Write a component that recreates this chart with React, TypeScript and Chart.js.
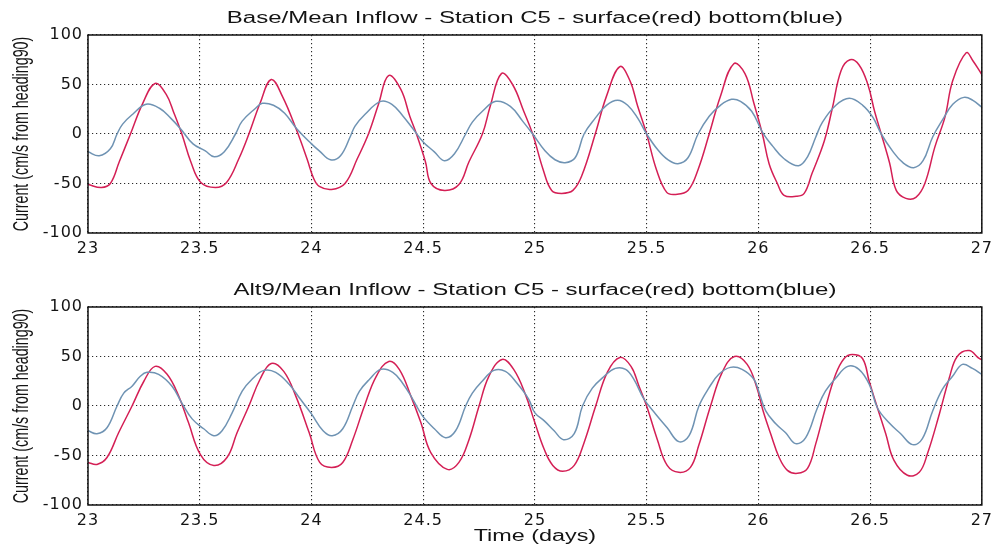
import React, { useEffect, useRef } from 'react';
import { Chart, registerables } from 'chart.js';

Chart.register(...registerables);

// ---- axis settings ----
const X_MIN = 23;
const X_MAX = 27;
const X_STEP = 0.5;
const Y_MIN = -100;
const Y_MAX = 100;
const Y_STEP = 50;

// ---- text ----
const TITLE_TOP = 'Base/Mean Inflow - Station C5 - surface(red) bottom(blue)';
const TITLE_BOTTOM = 'Alt9/Mean Inflow - Station C5 - surface(red) bottom(blue)';
const Y_LABEL = 'Current (cm/s from heading90)';
const X_LABEL = 'Time (days)';

// ---- Base / Mean inflow : surface (red) ----
const baseRedT = [23.0, 23.06, 23.10, 23.14, 23.19, 23.245, 23.30, 23.35, 23.385, 23.42, 23.46, 23.505, 23.57, 23.62, 23.675, 23.72, 23.77, 23.82, 23.87, 23.935, 23.98, 24.01, 24.035, 24.09, 24.15, 24.205, 24.255, 24.30, 24.345, 24.40, 24.44, 24.47, 24.51, 24.535, 24.595, 24.66, 24.705, 24.765, 24.80, 24.85, 24.90, 24.95, 24.99, 25.037, 25.075, 25.12, 25.17, 25.21, 25.27, 25.32, 25.38, 25.425, 25.46, 25.50, 25.544, 25.59, 25.63, 25.685, 25.73, 25.78, 25.83, 25.89, 25.94, 25.98, 26.018, 26.048, 26.085, 26.115, 26.17, 26.205, 26.24, 26.295, 26.33, 26.37, 26.41, 26.45, 26.49, 26.52, 26.55, 26.587, 26.617, 26.66, 26.705, 26.745, 26.79, 26.835, 26.87, 26.93, 26.96, 27.0];
const baseRedV = [-51, -54, -50, -28, 0, 31, 51, 40, 21, 0, -28, -49, -54, -49, -25, 0, 31, 55, 38, 3, -25, -45, -53, -56, -50, -25, 0, 30, 59, 45, 18, 0, -28, -50, -57, -51, -28, 0, 28, 61, 50, 23, 0, -36, -57, -60, -57, -42, 0, 38, 68, 54, 28, 0, -36, -59, -61, -57, -36, 0, 38, 71, 61, 31, 0, -30, -50, -62, -63, -60, -40, -7, 25, 64, 75, 70, 50, 23, 0, -29, -57, -65, -64, -50, -13, 17, 54, 82, 74, 60];

// ---- Base / Mean inflow : bottom (blue) ----
const baseBlueT = [23.0, 23.05, 23.10, 23.13, 23.155, 23.20, 23.26, 23.32, 23.37, 23.415, 23.47, 23.525, 23.565, 23.61, 23.66, 23.69, 23.75, 23.78, 23.83, 23.88, 23.935, 24.0, 24.035, 24.085, 24.13, 24.175, 24.195, 24.24, 24.31, 24.36, 24.41, 24.455, 24.50, 24.55, 24.595, 24.64, 24.69, 24.72, 24.765, 24.825, 24.89, 24.945, 24.99, 25.045, 25.09, 25.135, 25.18, 25.22, 25.27, 25.32, 25.37, 25.415, 25.46, 25.50, 25.55, 25.595, 25.64, 25.685, 25.73, 25.78, 25.83, 25.88, 25.92, 25.97, 26.018, 26.063, 26.115, 26.18, 26.22, 26.257, 26.287, 26.347, 26.407, 26.467, 26.512, 26.55, 26.60, 26.647, 26.695, 26.737, 26.78, 26.826, 26.87, 26.92, 26.96, 27.0];
const baseBlueV = [-18, -22, -15, 0, 10, 20, 30, 26, 16, 5, -10, -17, -23, -18, 0, 13, 26, 31, 29, 21, 5, -10, -17, -26, -22, -2, 8, 20, 33, 30, 18, 5, -8, -18, -27, -20, 0, 12, 23, 33, 28, 13, 0, -17, -26, -29, -24, 0, 16, 29, 34, 29, 16, 0, -16, -26, -30, -24, 0, 18, 29, 35, 33, 23, 2, -12, -25, -32, -23, -3, 12, 29, 36, 29, 17, 0, -17, -29, -34, -27, -3, 15, 30, 37, 34, 27];

// ---- Alt9 / Mean inflow : surface (red) ----
const altRedT = [23.0, 23.04, 23.085, 23.137, 23.197, 23.25, 23.30, 23.354, 23.406, 23.45, 23.503, 23.563, 23.622, 23.667, 23.72, 23.77, 23.82, 23.876, 23.93, 23.99, 24.037, 24.09, 24.14, 24.185, 24.237, 24.29, 24.346, 24.393, 24.445, 24.49, 24.534, 24.608, 24.66, 24.705, 24.75, 24.794, 24.853, 24.905, 24.957, 25.0, 25.042, 25.08, 25.124, 25.176, 25.22, 25.272, 25.324, 25.38, 25.43, 25.466, 25.5, 25.548, 25.592, 25.644, 25.696, 25.733, 25.786, 25.838, 25.893, 25.95, 25.994, 26.02, 26.055, 26.093, 26.13, 26.175, 26.22, 26.257, 26.30, 26.346, 26.384, 26.42, 26.466, 26.496, 26.533, 26.57, 26.607, 26.667, 26.72, 26.757, 26.81, 26.854, 26.89, 26.943, 26.988, 27.0];
const altRedV = [-57, -59, -52, -27, 0, 25, 40, 32, 10, -17, -49, -60, -52, -27, 0, 27, 43, 35, 10, -27, -57, -62, -57, -34, 0, 30, 45, 37, 10, -17, -47, -64, -57, -34, 0, 30, 47, 37, 12, -17, -44, -60, -66, -60, -37, 0, 34, 49, 40, 20, 0, -34, -60, -67, -62, -40, 0, 34, 50, 42, 18, -4, -28, -52, -65, -68, -63, -38, -2, 32, 48, 52, 48, 25, -2, -28, -55, -70, -67, -48, -8, 28, 50, 56, 48, 47];

// ---- Alt9 / Mean inflow : bottom (blue) ----
const altBlueT = [23.0, 23.04, 23.085, 23.13, 23.16, 23.197, 23.234, 23.264, 23.316, 23.376, 23.42, 23.466, 23.518, 23.563, 23.60, 23.645, 23.69, 23.734, 23.787, 23.84, 23.90, 23.95, 24.0, 24.052, 24.093, 24.14, 24.185, 24.215, 24.26, 24.31, 24.364, 24.408, 24.453, 24.497, 24.55, 24.60, 24.645, 24.69, 24.72, 24.764, 24.816, 24.868, 24.92, 24.972, 25.0, 25.042, 25.086, 25.128, 25.176, 25.213, 25.257, 25.31, 25.36, 25.406, 25.443, 25.488, 25.54, 25.592, 25.644, 25.69, 25.734, 25.778, 25.823, 25.875, 25.927, 25.98, 26.003, 26.033, 26.078, 26.122, 26.167, 26.212, 26.264, 26.30, 26.346, 26.40, 26.45, 26.496, 26.533, 26.585, 26.637, 26.69, 26.734, 26.78, 26.824, 26.869, 26.913, 26.958, 27.0];
const altBlueV = [-25, -28, -22, 0, 13, 20, 30, 34, 32, 20, 3, -13, -23, -30, -25, -7, 15, 27, 36, 34, 22, 7, -8, -25, -30, -23, 0, 15, 27, 37, 34, 23, 7, -10, -23, -32, -25, 0, 13, 25, 36, 35, 23, 7, -7, -15, -25, -34, -28, 0, 18, 30, 38, 37, 27, 7, -8, -22, -36, -30, 0, 18, 32, 39, 37, 27, 14, -5, -18, -27, -38, -32, -2, 15, 28, 40, 37, 22, -2, -17, -28, -39, -33, -5, 17, 30, 42, 38, 32];

const RED = '#d41f55';
const BLUE = '#6f93b3';
const TEXT = '#141414';

const W = 998;
const PLOT_TOP = 35;
const PLOT_BOTTOM = 233;
const PLOT_LEFT = 88;
const PLOT_RIGHT_PAD = 13;

function toPoints(t: number[], v: number[]) {
  return t.map((x, i) => ({ x, y: v[i] }));
}

function stretchedText(ctx: any, text: string, x: number, y: number, size: number, sx: number, rotated: boolean) {
  ctx.save();
  ctx.translate(x, y);
  ctx.scale(sx, 1);
  if (rotated) ctx.rotate(-Math.PI / 2);
  ctx.font = `${size}px "Liberation Sans", Arial, sans-serif`;
  ctx.textAlign = 'center';
  ctx.textBaseline = 'middle';
  ctx.fillStyle = TEXT;
  ctx.fillText(text, 0, 0);
  ctx.restore();
}

const decorPlugin = {
  id: 'decor',
  beforeDraw(chart: any) {
    const ctx = chart.ctx;
    ctx.save();
    ctx.fillStyle = '#ffffff';
    ctx.fillRect(0, 0, chart.width, chart.height);
    ctx.restore();
    ctx.letterSpacing = '1px';
  },
  afterDraw(chart: any, _args: any, opts: any) {
    const ctx = chart.ctx;
    const a = chart.chartArea;
    ctx.letterSpacing = '0px';
    ctx.save();
    ctx.strokeStyle = '#111';
    ctx.lineWidth = 1.5;
    ctx.strokeRect(a.left, a.top, a.right - a.left, a.bottom - a.top);
    ctx.restore();
    const cx = (a.left + a.right) / 2;
    stretchedText(ctx, opts.title, cx, 19, 16, 1.5, false);
    stretchedText(ctx, Y_LABEL, 22, (a.top + a.bottom) / 2, 14.3, 1.5, true);
    if (opts.xLabel) stretchedText(ctx, opts.xLabel, cx, a.bottom + 32, 16, 1.46, false);
  },
};

function Panel(props: { title: string; red: any[]; blue: any[]; height: number; top: number; xLabel?: string }) {
  const ref = useRef<HTMLCanvasElement | null>(null);
  useEffect(() => {
    if (!ref.current) return;
    const tickFont = { family: '"DejaVu Sans", sans-serif', size: 16 };
    const fmt = (v: any) => String(Number(v));
    const chart = new Chart(ref.current, {
      type: 'line',
      data: {
        datasets: [
          {
            data: props.blue,
            borderColor: BLUE,
            borderWidth: 1.5,
            pointRadius: 0,
            fill: false,
            tension: 0.4,
          },
          {
            data: props.red,
            borderColor: RED,
            borderWidth: 1.5,
            pointRadius: 0,
            fill: false,
            tension: 0.4,
          },
        ],
      },
      options: {
        responsive: false,
        maintainAspectRatio: false,
        animation: false,
        events: [],
        layout: { padding: { left: 0, top: PLOT_TOP, right: PLOT_RIGHT_PAD, bottom: 0 } },
        plugins: {
          legend: { display: false },
          tooltip: { enabled: false },
          title: { display: false },
          decor: { title: props.title, xLabel: props.xLabel },
        } as any,
        scales: {
          x: {
            type: 'linear',
            min: X_MIN,
            max: X_MAX,
            ticks: { stepSize: X_STEP, padding: 6, color: TEXT, font: tickFont, maxRotation: 0, autoSkip: false, callback: fmt },
            grid: { color: '#2a2a2a', lineWidth: 1.1, drawTicks: false },
            border: { display: false, dash: [1.2, 2.8] },
            afterFit: (s: any) => {
              s.height = props.height - PLOT_BOTTOM;
            },
          },
          y: {
            type: 'linear',
            min: Y_MIN,
            max: Y_MAX,
            ticks: { stepSize: Y_STEP, padding: 5, color: TEXT, font: tickFont, callback: fmt },
            grid: { color: '#2a2a2a', lineWidth: 1.1, drawTicks: false },
            border: { display: false, dash: [1.2, 2.8] },
            afterFit: (s: any) => {
              s.width = PLOT_LEFT;
            },
          },
        },
      } as any,
      plugins: [decorPlugin as any],
    });
    return () => chart.destroy();
  }, []);
  return (
    <canvas
      ref={ref}
      width={W}
      height={props.height}
      style={{ position: 'absolute', left: 0, top: props.top, width: W, height: props.height, display: 'block' }}
    />
  );
}

export default function App() {
  return (
    <div style={{ position: 'fixed', left: 0, top: 0, width: W, height: 549, background: '#fff', overflow: 'hidden' }}>
      <Panel title={TITLE_TOP} red={toPoints(baseRedT, baseRedV)} blue={toPoints(baseBlueT, baseBlueV)} height={272} top={0} />
      <Panel
        title={TITLE_BOTTOM}
        red={toPoints(altRedT, altRedV)}
        blue={toPoints(altBlueT, altBlueV)}
        height={277}
        top={272}
        xLabel={X_LABEL}
      />
    </div>
  );
}
